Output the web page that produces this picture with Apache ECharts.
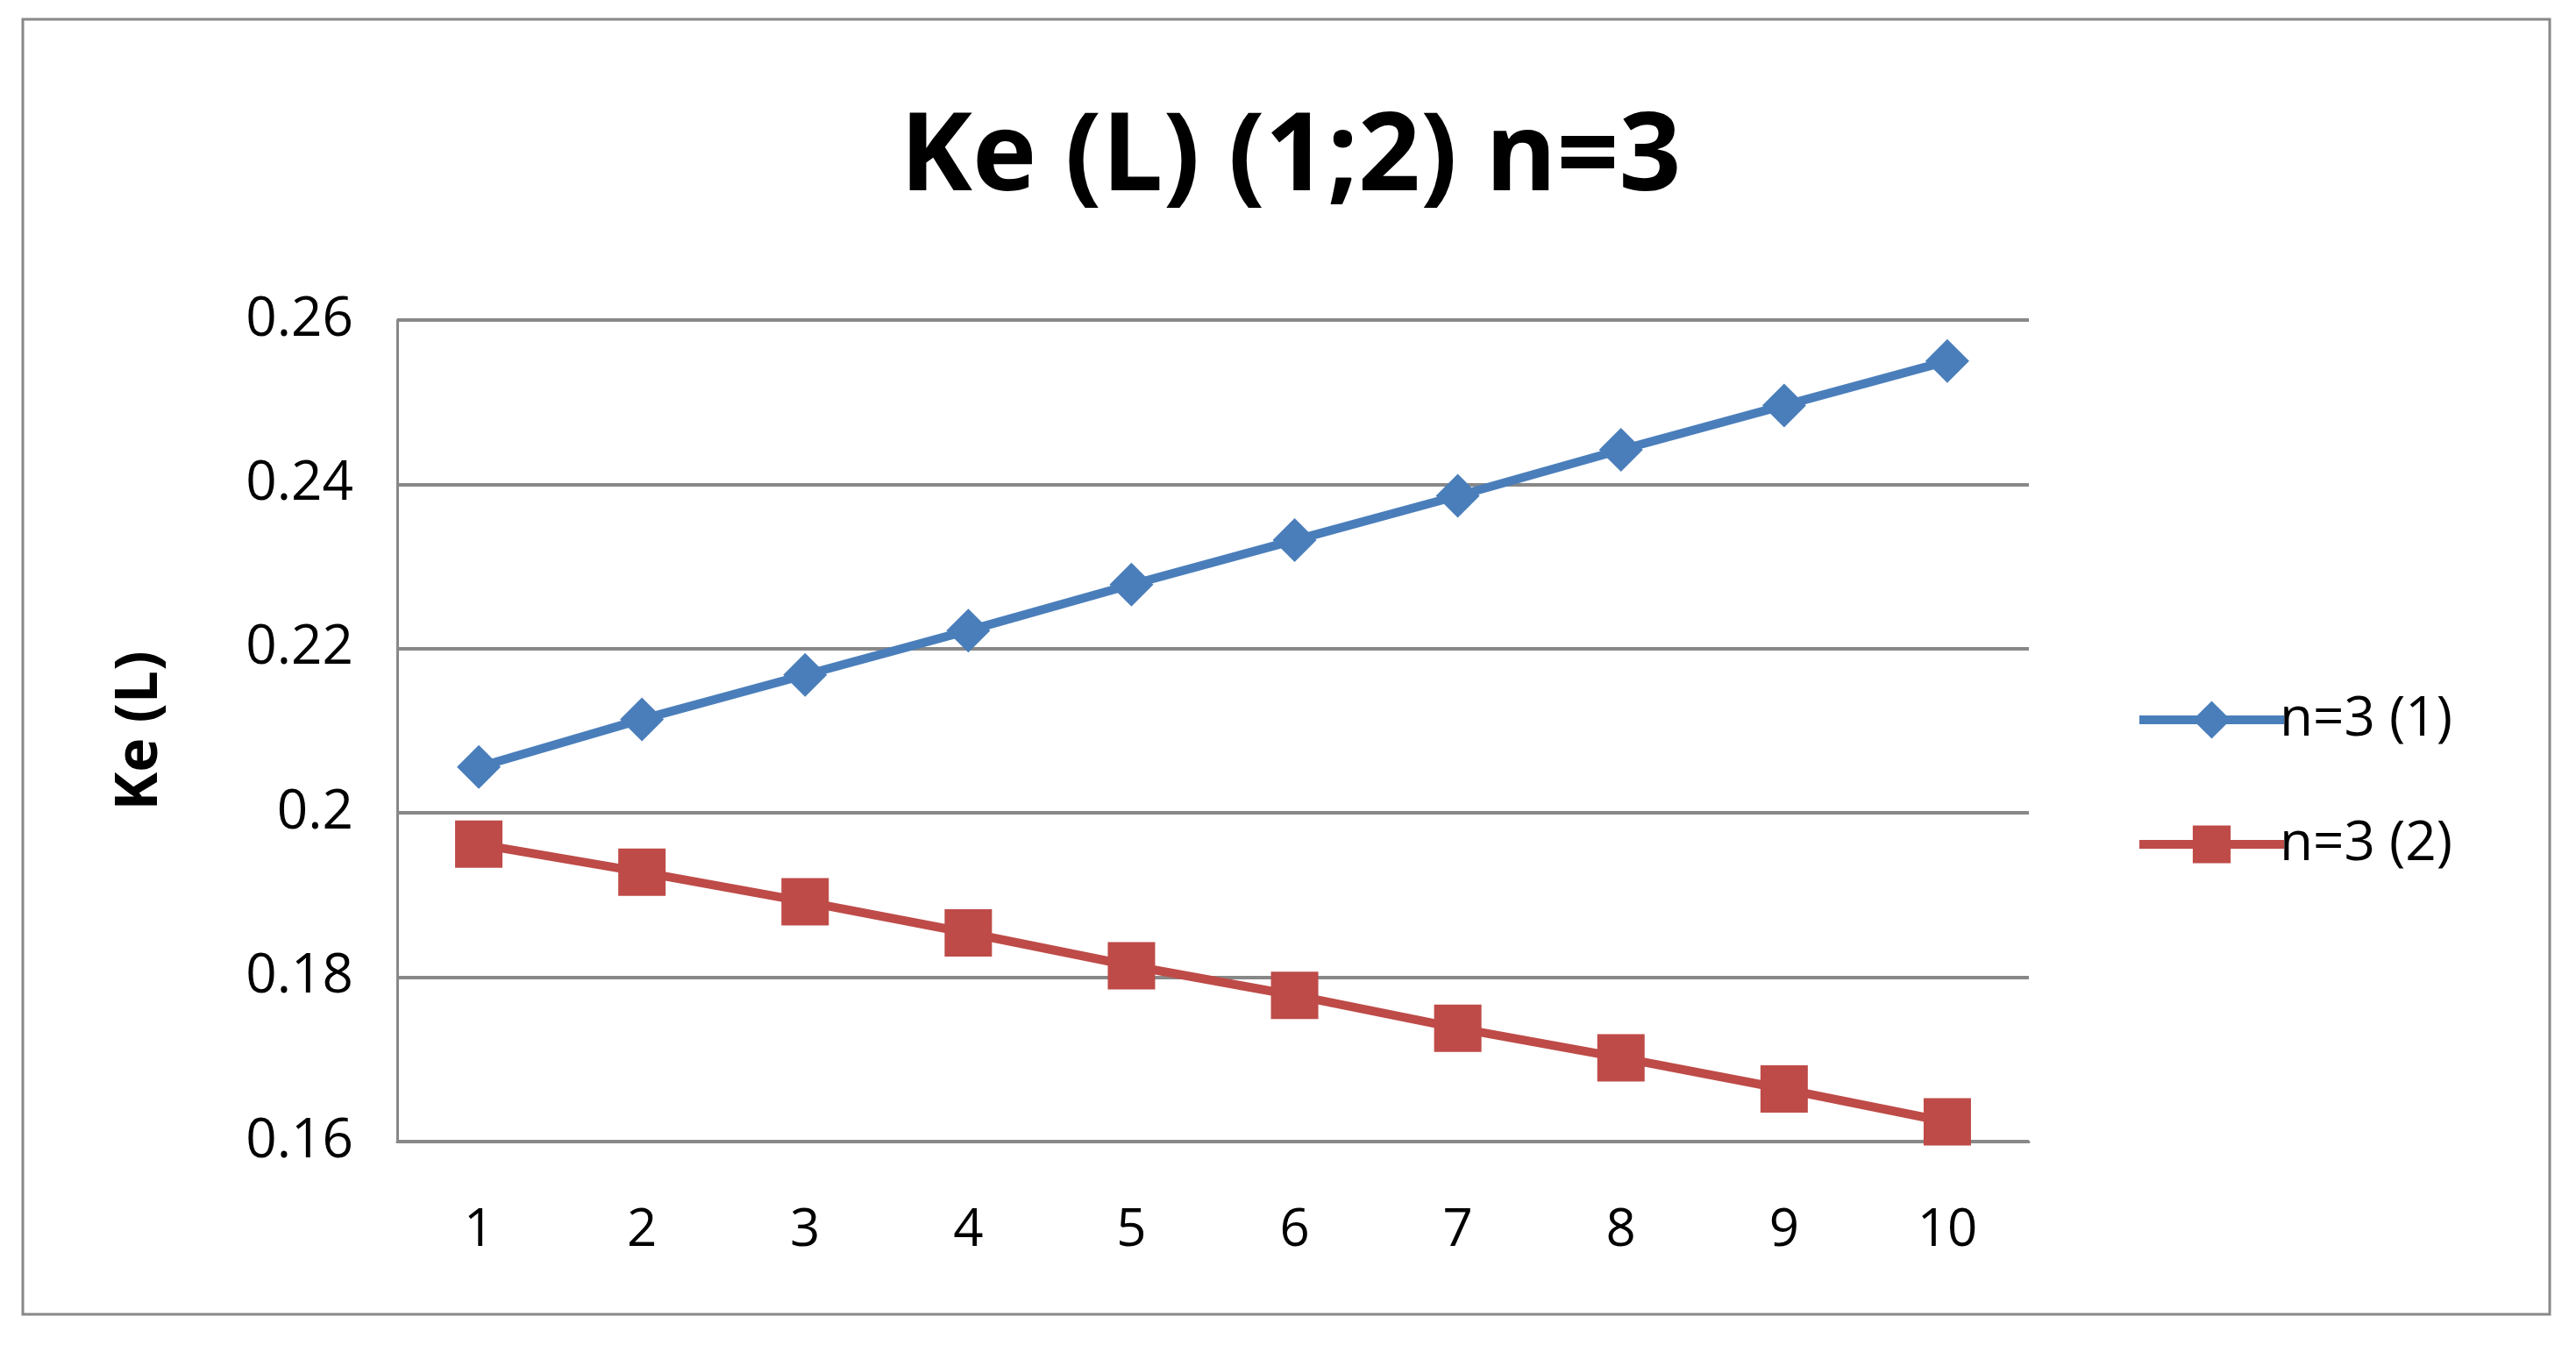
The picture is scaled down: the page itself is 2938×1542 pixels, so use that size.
<!DOCTYPE html>
<html>
<head>
<meta charset="utf-8">
<script src="https://cdn.jsdelivr.net/npm/echarts@6/dist/echarts.min.js"></script>
<style>
html,body{margin:0;padding:0;background:#fff;}
#chart{width:2938px;height:1542px;}
</style>
</head>
<body>
<div id="chart"></div>
<script>
// data
var categories = ['1','2','3','4','5','6','7','8','9','10'];
var series1 = [0.2056,0.2114,0.2168,0.2222,0.2278,0.2332,0.2386,0.2442,0.2496,0.2550];
var series2 = [0.1962,0.1928,0.1892,0.1854,0.1814,0.1778,0.1738,0.1702,0.1664,0.1624];
var names = ['n=3 (1)','n=3 (2)'];

var chart = echarts.init(document.getElementById('chart'));
var font = 'Open Sans, Calibri, Liberation Sans, sans-serif';
chart.setOption({
    backgroundColor: '#fff',
    title: {
        text: 'Ke (L) (1;2) n=3',
        left: 1467, top: 115, textAlign: 'center',
        textStyle: {fontSize: 124, fontWeight: 'bold', color: '#000', fontFamily: font}
    },
    graphic: [{
        type: 'rect', shape: {x: 26, y: 22, width: 2882, height: 1477},
        style: {fill: 'none', stroke: '#888', lineWidth: 3}
    }],
    legend: {
        orient: 'vertical', left: 2430, top: 785, itemGap: 80,
        itemWidth: 165, itemHeight: 54,
        lineStyle: {width: 10},
        textStyle: {fontSize: 62, color: '#000', fontFamily: font, padding: [0,0,0,-10]},
        data: names
    },
    grid: {left: 453, right: 624, top: 365, bottom: 240},
    xAxis: {
        type: 'category', data: categories, boundaryGap: true,
        axisLine: {lineStyle: {color: '#888', width: 3}},
        axisTick: {show: false},
        axisLabel: {fontSize: 60, color: '#000', margin: 72, fontFamily: font}
    },
    yAxis: {
        type: 'value', min: 0.16, max: 0.26, interval: 0.02,
        name: 'Ke (L)', nameLocation: 'middle', nameGap: 260, nameRotate: 90,
        nameTextStyle: {fontSize: 66, fontWeight: 'bold', color: '#000', fontFamily: font},
        axisLine: {show: true, lineStyle: {color: '#888', width: 3}},
        axisTick: {show: false},
        splitLine: {lineStyle: {color: '#888', width: 4}},
        axisLabel: {fontSize: 62, color: '#000', margin: 50, fontFamily: font,
            formatter: function (v) { return String(+v.toFixed(2)); }}
    },
    series: [{
        name: names[0], type: 'line', data: series1,
        symbol: 'diamond', symbolSize: 50,
        lineStyle: {width: 10, color: '#4A7EBB'},
        itemStyle: {color: '#4A7EBB'}
    }, {
        name: names[1], type: 'line', data: series2,
        symbol: 'rect', symbolSize: 54,
        lineStyle: {width: 10, color: '#BE4B48'},
        itemStyle: {color: '#BE4B48'}
    }]
});
</script>
</body>
</html>
